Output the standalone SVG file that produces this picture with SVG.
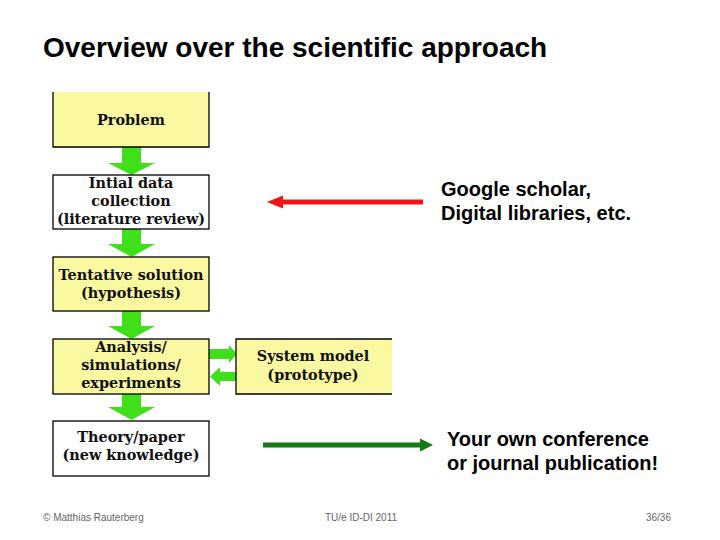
<svg xmlns="http://www.w3.org/2000/svg" width="720" height="540" viewBox="0 0 720 540">
<style>
.title{font-family:"Liberation Sans",Arial,sans-serif;font-weight:bold;font-size:28px;fill:#000}
.note{font-family:"Liberation Sans",Arial,sans-serif;font-weight:bold;font-size:20px;fill:#000}
.foot{font-family:"Liberation Sans",Arial,sans-serif;font-size:10px;fill:#666}
.lbl{font-family:"DejaVu Serif","Liberation Serif",serif;font-weight:bold;font-size:14.4px;fill:#111;text-anchor:middle}
.yel{fill:#FBF8A2;stroke:#000;stroke-width:1.3}
.wht{fill:#FFFFFF;stroke:#000;stroke-width:1.3}
.garr{fill:#3FE01A}
</style>
<rect width="720" height="540" fill="#fff"/>
<text class="title" x="43" y="57">Overview over the scientific approach</text>

<g id="connectors">
  <path class="garr" d="M122,147 H141 V163 H155 L131.5,175 L108,163 H122 Z"/>
  <path class="garr" d="M122,229 H141 V244 H155 L131.5,257 L108,244 H122 Z"/>
  <path class="garr" d="M122,311 H141 V326 H155 L131.5,339 L108,326 H122 Z"/>
  <path class="garr" d="M122,394 H141 V407 H155 L131.5,420 L108,407 H122 Z"/>
  <path class="garr" d="M209,349 H229 V345 L237,354 L229,363 V359 H209 Z"/>
  <path class="garr" d="M236,372 H220 V367 L210,376.5 L220,386 V381 H236 Z"/>
  <path fill="#EE1515" d="M423,199.5 H283 V195.5 L267,202 L283,208.5 V204.5 H423 Z"/>
  <path fill="#177A17" d="M263,442.5 H420 V438.5 L433,445 L420,451.5 V447.5 H263 Z"/>
</g>

<g id="problem">
  <rect x="53" y="92" width="156" height="55" fill="#FBF8A2"/>
  <path d="M53,92 V147 H209 V92" fill="none" stroke="#000" stroke-width="1.3"/>
  <text class="lbl" x="131" y="125">Problem</text>
</g>
<g id="data-collection">
  <rect class="wht" x="53" y="175" width="156" height="54"/>
  <text class="lbl" x="131" y="188">Intial data</text>
  <text class="lbl" x="131" y="206">collection</text>
  <text class="lbl" x="131" y="224">(literature review)</text>
</g>
<g id="hypothesis">
  <rect class="yel" x="53" y="257" width="156" height="54"/>
  <text class="lbl" x="131" y="280">Tentative solution</text>
  <text class="lbl" x="131" y="298">(hypothesis)</text>
</g>
<g id="analysis">
  <rect class="yel" x="53" y="339" width="156" height="55"/>
  <text class="lbl" x="131" y="352">Analysis/</text>
  <text class="lbl" x="131" y="370">simulations/</text>
  <text class="lbl" x="131" y="388">experiments</text>
</g>
<g id="system-model">
  <rect x="236" y="339" width="156" height="55" fill="#FBF8A2"/>
  <path d="M392,339 H236 V394 H392" fill="none" stroke="#000" stroke-width="1.3"/>
  <text class="lbl" x="313" y="361">System model</text>
  <text class="lbl" x="313" y="380">(prototype)</text>
</g>
<g id="theory">
  <rect class="wht" x="53" y="421" width="156" height="55"/>
  <text class="lbl" x="131" y="442">Theory/paper</text>
  <text class="lbl" x="131" y="460">(new knowledge)</text>
</g>

<g id="note-google">
  <text class="note" x="441" y="196">Google scholar,</text>
  <text class="note" x="441" y="220">Digital libraries, etc.</text>
</g>
<g id="note-publication">
  <text class="note" x="447" y="446">Your own conference</text>
  <text class="note" x="447" y="470">or journal publication!</text>
</g>

<text class="foot" x="43" y="521">© Matthias Rauterberg</text>
<text class="foot" x="325" y="521">TU/e ID-DI 2011</text>
<text class="foot" x="671" y="521" text-anchor="end">36/36</text>
</svg>
